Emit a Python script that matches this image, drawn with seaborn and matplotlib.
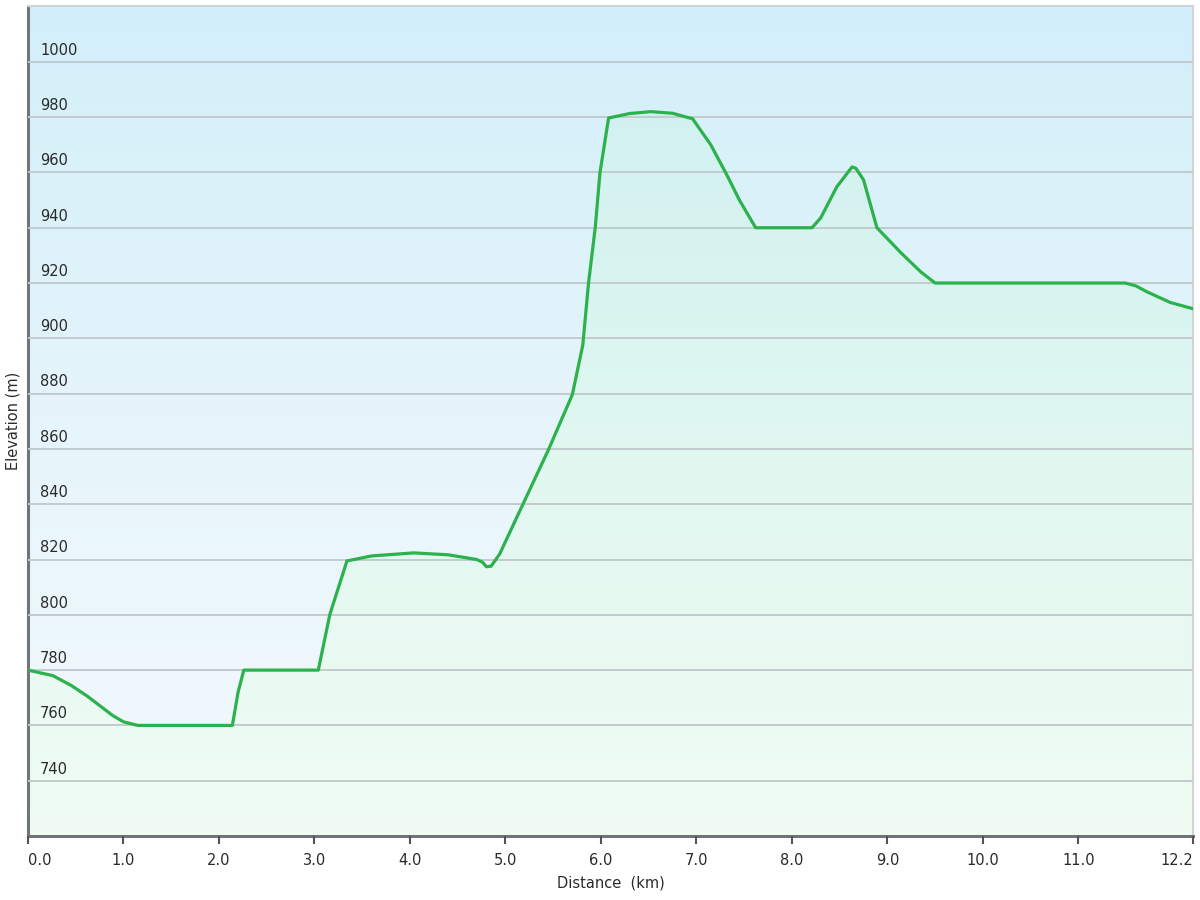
import numpy as np
import pandas as pd
import matplotlib
matplotlib.use("Agg")
import matplotlib.pyplot as plt
import matplotlib.transforms as mtransforms
from matplotlib.colors import LinearSegmentedColormap
import seaborn as sns

# ---- data ----
distance_km = [0.0, 0.26, 0.45, 0.62, 0.89, 1.0, 1.15, 2.14, 2.2, 2.26, 3.04,
               3.16, 3.34, 3.6, 4.04, 4.4, 4.70, 4.76, 4.80, 4.85, 4.94, 4.98,
               5.45, 5.70, 5.81, 5.87, 5.94, 5.99, 6.08, 6.3, 6.52, 6.75, 6.96,
               7.15, 7.32, 7.45, 7.62, 8.21, 8.3, 8.47, 8.63, 8.67, 8.75, 8.89,
               9.14, 9.35, 9.50, 11.49, 11.6, 11.72, 11.96, 12.2]
elevation_m = [780, 778, 774.5, 770.6, 763.5, 761.3, 760, 760, 772, 780, 780,
               800, 819.5, 821.3, 822.4, 821.7, 820, 819, 817.4, 817.6, 822, 825,
               859.7, 879.6, 897.6, 920, 940, 960, 979.7, 981.3, 982, 981.4, 979.4,
               970, 959, 950, 940, 940, 943.5, 954.8, 962, 961.5, 957.3, 940,
               931, 924, 920, 920, 919, 916.8, 913, 910.7]
x_ticks = [0.0, 1.0, 2.0, 3.0, 4.0, 5.0, 6.0, 7.0, 8.0, 9.0, 10.0, 11.0, 12.2]
y_ticks = [740, 760, 780, 800, 820, 840, 860, 880, 900, 920, 940, 960, 980, 1000]

df = pd.DataFrame({"Distance": distance_km, "Elevation": elevation_m})

sns.set_style("white")
plt.rcParams["font.family"] = ["DejaVu Sans"]

fig = plt.figure(figsize=(12, 9), dpi=100)
ax = fig.add_axes([28 / 1200, 1 - 836 / 900, (1193 - 28) / 1200, (836 - 6) / 900])

grad = np.linspace(0, 1, 256).reshape(-1, 1)

# background gradient
bg_cmap = LinearSegmentedColormap.from_list("bg", ["#d2eff9", "#e6f5fb", "#f3f9fd"])
ax.imshow(grad, extent=[0, 1, 0, 1], transform=ax.transAxes, aspect="auto",
          cmap=bg_cmap, zorder=0, origin="upper")

ymin, ymax = 720, 1020.2
ax.set_xlim(0, 12.2)
ax.set_ylim(ymin, ymax)

# area under the profile, filled with its own gradient
area = ax.fill_between(df["Distance"], df["Elevation"], ymin, color="none",
                       linewidth=0, zorder=1)
fill_cmap = LinearSegmentedColormap.from_list("fill", ["#cdeff0", "#dff7f0", "#f0fcf4"])
img = ax.imshow(grad, extent=[0, 1, 0, 1], transform=ax.transAxes, aspect="auto",
                cmap=fill_cmap, zorder=1, origin="upper")
img.set_clip_path(area.get_paths()[0], transform=ax.transData)

sns.lineplot(data=df, x="Distance", y="Elevation", ax=ax, color="#2bb24c",
             linewidth=2.3, zorder=3, solid_joinstyle="round")

ax.set_xlim(0, 12.2)
ax.set_ylim(ymin, ymax)

# horizontal grid
ax.set_yticks(y_ticks)
ax.yaxis.grid(True, color="#c2cacd", linewidth=1.4, zorder=2)
ax.xaxis.grid(False)
ax.set_axisbelow(False)
for gl in ax.get_ygridlines():
    gl.set_zorder(2)
ax.tick_params(axis="y", length=0, labelleft=False)

# y labels inside plot
offset = mtransforms.ScaledTranslation(0, 3 / 72, fig.dpi_scale_trans)
trans = mtransforms.blended_transform_factory(ax.transAxes, ax.transData) + offset
for v in y_ticks:
    ax.text(12 / 1165, v, str(v), transform=trans, ha="left", va="bottom",
            fontsize=10.5, color="#2a2a2a", zorder=4)

ax.set_xticks(x_ticks)
ax.set_xticklabels([f"{t:.1f}" for t in x_ticks], fontsize=10.5, color="#2a2a2a")
labels = ax.get_xticklabels()
labels[-1].set_horizontalalignment("right")
labels[0].set_horizontalalignment("left")
ax.tick_params(axis="x", direction="out", length=6, width=1.5, color="#555555",
               pad=6, bottom=True)

ax.set_xlabel("Distance  (km)", fontsize=10.5, color="#2a2a2a", labelpad=6)
fig.text(13 / 1200, 1 - 421 / 900, "Elevation (m)", rotation=90, ha="center",
         va="center", fontsize=10.5, color="#2a2a2a")
ax.set_ylabel("")

for side in ["left", "bottom"]:
    ax.spines[side].set_color("#6f7578")
    ax.spines[side].set_linewidth(2.2)
for side in ["top", "right"]:
    ax.spines[side].set_color("#d0d4d6")
    ax.spines[side].set_linewidth(1.5)

fig.savefig("out.png", dpi=100, facecolor="white")
